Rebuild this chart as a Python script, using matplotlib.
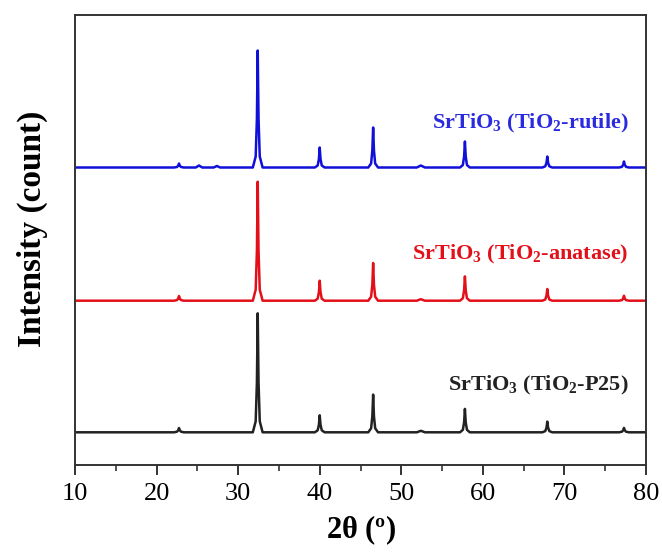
import matplotlib
matplotlib.use("Agg")
import matplotlib.pyplot as plt
from matplotlib.ticker import MultipleLocator

plt.rcParams['font.family'] = ['Liberation Serif', 'DejaVu Serif']
plt.rcParams['mathtext.fontset'] = 'custom'
plt.rcParams['mathtext.rm'] = 'Liberation Serif'
plt.rcParams['mathtext.bf'] = 'Liberation Serif:bold'
plt.rcParams['mathtext.it'] = 'Liberation Serif:italic'

# 2-theta grid (degrees)
two_theta = [
    10.0,
    22.15, 22.5, 22.65, 22.75, 22.85, 23.0, 23.35,
    24.8, 25.2, 25.6, 27.0, 27.4, 27.8,
    31.8, 32.15, 32.3, 32.4, 32.5, 32.65, 33.0,
    39.4, 39.75, 39.9, 40.0, 40.1, 40.25, 40.6,
    45.95, 46.3, 46.45, 46.55, 46.65, 46.8, 47.15,
    51.9, 52.4, 52.9,
    57.2, 57.55, 57.7, 57.8, 57.9, 58.05, 58.4,
    67.3, 67.65, 67.8, 67.9, 68.0, 68.15, 68.5,
    76.7, 77.05, 77.2, 77.3, 77.4, 77.55, 77.9,
    80.0,
]

# intensities (a.u., baseline-subtracted)
int_p25 = [
    0,
    0, 0.6, 2.0, 4.3, 2.0, 0.6, 0,
    0, 0, 0, 0, 0, 0,
    0, 11, 50, 119, 50, 11, 0,
    0, 2, 7.5, 17, 7.5, 2, 0,
    0, 4, 16, 37.7, 16, 4, 0,
    0, 1.5, 0,
    0, 2.5, 10, 23.4, 10, 2.5, 0,
    0, 1.2, 4.6, 10.7, 4.6, 1.2, 0,
    0, 0.6, 2, 4.4, 2, 0.6, 0,
    0,
]
int_anatase = [
    0,
    0, 0.6, 2.2, 4.7, 2.2, 0.6, 0,
    0, 0, 0, 0, 0, 0,
    0, 11, 50, 119, 50, 11, 0,
    0, 2, 8.5, 20, 8.5, 2, 0,
    0, 4, 16, 37.7, 16, 4, 0,
    0, 1.5, 0,
    0, 2.5, 10.5, 24.3, 10.5, 2.5, 0,
    0, 1.2, 5, 11.7, 5, 1.2, 0,
    0, 0.6, 2.2, 5, 2.2, 0.6, 0,
    0,
]
int_rutile = [
    0,
    0, 0.5, 1.8, 4.0, 1.8, 0.5, 0,
    0, 2, 0, 0, 1.5, 0,
    0, 11, 49, 117, 49, 11, 0,
    0, 2, 8.5, 20, 8.5, 2, 0,
    0, 4, 17, 40, 17, 4, 0,
    0, 2, 0,
    0, 2.5, 11, 26, 11, 2.5, 0,
    0, 1.2, 4.7, 11, 4.7, 1.2, 0,
    0, 0.7, 2.6, 6, 2.6, 0.7, 0,
    0,
]

series = [
    (int_p25, 32.7, '#222222', r'SrTiO$_\mathbf{3}$ (TiO$_\mathbf{2}$-P25)', 75.0, '#222222'),
    (int_anatase, 164.3, '#e3101a', r'SrTiO$_\mathbf{3}$ (TiO$_\mathbf{2}$-anatase)', 205.7, '#e3101a'),
    (int_rutile, 297.5, '#1010d8', r'SrTiO$_\mathbf{3}$ (TiO$_\mathbf{2}$-rutile)', 336.7, '#2a2ae0'),
]

fig = plt.figure(figsize=(6.62, 5.52), dpi=100)
ax = fig.add_axes([75/662, 87/552, 571/662, 450/552])

for vals, off, col, lab, ty, tcol in series:
    ax.plot(two_theta, [v + off for v in vals], color=col, lw=1.8)
    ax.text(77.9, ty, lab, ha='right', va='baseline', fontsize=16,
            fontweight='bold', color=tcol)

ax.set_xlim(10, 80)
ax.set_ylim(0, 450)
ax.xaxis.set_major_locator(MultipleLocator(10))
ax.xaxis.set_minor_locator(MultipleLocator(5))
ax.set_yticks([])
ax.tick_params(axis='x', which='major', direction='out', length=7, width=1.4,
               labelsize=19, color='#333333', pad=6)
ax.tick_params(axis='x', which='minor', direction='out', length=4, width=1.2,
               color='#333333')
for s in ax.spines.values():
    s.set_linewidth(1.4)
    s.set_color('#333333')

ax.set_xlabel(r'2$\mathbf{\theta}$ (º)', fontsize=22, fontweight='bold', labelpad=6)
ax.set_ylabel('Intensity (count)', fontsize=24, fontweight='bold')
ax.yaxis.set_label_coords(-0.047, 0.525)

fig.savefig('out.png', dpi=100)
